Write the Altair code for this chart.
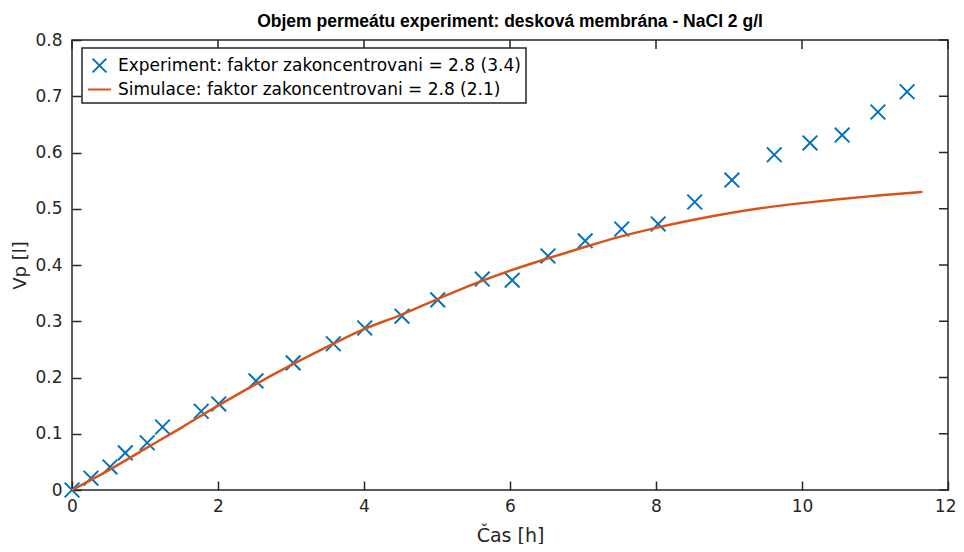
import altair as alt
import pandas as pd

# Experiment (x markers)
exp_t = [0, 0.26, 0.52, 0.73, 1.03, 1.24, 1.77, 2.01, 2.52, 3.03, 3.58, 4.01, 4.52, 5.01,
         5.62, 6.03, 6.52, 7.03, 7.53, 8.03, 8.53, 9.04, 9.62, 10.11, 10.55, 11.04, 11.44]
exp_v = [0, 0.021, 0.041, 0.066, 0.084, 0.112, 0.140, 0.153, 0.194, 0.226, 0.260, 0.288, 0.309, 0.338,
         0.375, 0.373, 0.416, 0.443, 0.464, 0.473, 0.512, 0.551, 0.596, 0.617, 0.631, 0.672, 0.708]

# Simulation (line)
sim_t = [0, 0.5, 1, 1.5, 2, 2.5, 3, 3.5, 4, 4.5, 5, 5.5, 6, 6.5, 7, 7.5, 8, 8.5, 9, 9.5,
         10, 10.5, 11, 11.65]
sim_v = [0, 0.035, 0.073, 0.111, 0.150, 0.187, 0.222, 0.255, 0.286, 0.311, 0.339, 0.366, 0.390,
         0.411, 0.431, 0.450, 0.466, 0.480, 0.492, 0.502, 0.510, 0.517, 0.523, 0.530]

x_ticks = [0, 2, 4, 6, 8, 10, 12]
y_ticks = [0, 0.1, 0.2, 0.3, 0.4, 0.5, 0.6, 0.7, 0.8]

EXP = "Experiment: faktor zakoncentrovani = 2.8 (3.4)"
SIM = "Simulace: faktor zakoncentrovani = 2.8 (2.1)"
TITLE = "Objem permeátu experiment: desková membrána - NaCl 2 g/l"

BLUE = "#0072BD"
ORANGE = "#D95319"
DARK = "#262626"
FONT = "DejaVu Sans"
TFONT = "Liberation Sans"
XPATH = "M-0.6,-0.6L0.6,0.6M-0.6,0.6L0.6,-0.6"

W, H = 876, 450
TICK = 9

exp_df = pd.DataFrame({"t": exp_t, "v": exp_v, "series": EXP})
sim_df = pd.DataFrame({"t": sim_t, "v": sim_v, "series": SIM})
xt_df = pd.DataFrame({"t": x_ticks})
yt_df = pd.DataFrame({"v": y_ticks})

xs = alt.Scale(domain=[0, 12], nice=False, zero=False)
ys = alt.Scale(domain=[0, 0.8], nice=False, zero=False)

x_axis = alt.Axis(values=x_ticks, title="Čas [h]", offset=-TICK, tickSize=TICK, tickWidth=1.5,
                  tickColor=DARK, domain=False, grid=False, labelPadding=8, labelFontSize=17,
                  labelFont=FONT, labelColor=DARK, titleFont=FONT, titleFontSize=19,
                  titleFontWeight="normal", titleColor=DARK, titlePadding=12, labelFlush=False,
                  labelAlign={"condition": {"test": "datum.value == 12", "value": "right"},
                              "value": "center"},
                  labelOffset={"condition": {"test": "datum.value == 12", "value": 8},
                               "value": 0})
y_axis = alt.Axis(values=y_ticks, title="Vp [l]", offset=-TICK, tickSize=TICK, tickWidth=1.5,
                  tickColor=DARK, domain=False, grid=False, labelPadding=10, labelFontSize=17,
                  labelFont=FONT, labelColor=DARK, titleFont=FONT, titleFontSize=18,
                  titleFontWeight="normal", titleColor=DARK, titlePadding=5, labelFlush=False,
                  labelExpr="datum.value == 0 ? '0' : format(datum.value, '.1f')")

dom = [EXP, SIM]
legend = alt.Legend(title=None, orient="none", legendX=10, legendY=8, padding=5,
                    strokeColor=DARK, fillColor="white", labelFontSize=17, labelFont=FONT,
                    labelColor="black", symbolSize=529, symbolStrokeWidth=2,
                    labelOffset=6, rowPadding=0, labelLimit=600)
color = alt.Color("series:N", scale=alt.Scale(domain=dom, range=[BLUE, ORANGE]), legend=legend)
shape = alt.Shape("series:N", scale=alt.Scale(domain=dom, range=[XPATH, "stroke"]), legend=legend)

X = alt.X("t:Q", scale=xs, axis=x_axis)
Y = alt.Y("v:Q", scale=ys, axis=y_axis)

points = alt.Chart(exp_df).mark_point(filled=False, size=600, strokeWidth=2, opacity=1).encode(
    x=X, y=Y, color=color, shape=shape,
)

line = alt.Chart(sim_df).mark_line(strokeWidth=2.5, interpolate="monotone").encode(
    x=X, y=Y, color=color,
)

top_ticks = alt.Chart(xt_df).mark_rule(color=DARK, strokeWidth=1.5).encode(
    x=X,
    y=alt.value(0),
    y2=alt.value(TICK),
)

right_ticks = alt.Chart(yt_df).mark_rule(color=DARK, strokeWidth=1.5).encode(
    y=Y,
    x=alt.value(W - TICK),
    x2=alt.value(W),
)

chart = alt.layer(points, line, top_ticks, right_ticks).properties(
    width=W, height=H,
    title=alt.Title(TITLE, font=TFONT, fontSize=17.5, fontWeight="bold", color="black",
                    anchor="middle", offset=1),
    autosize=alt.AutoSizeParams(type="none"),
    padding={"left": 64, "top": 32, "right": 8, "bottom": 54},
).configure_view(
    stroke=DARK, strokeWidth=1.5
).configure_legend(
    strokeWidth=1.5
)

chart.save("out.html", embed_options={"renderer": "svg", "actions": False})
